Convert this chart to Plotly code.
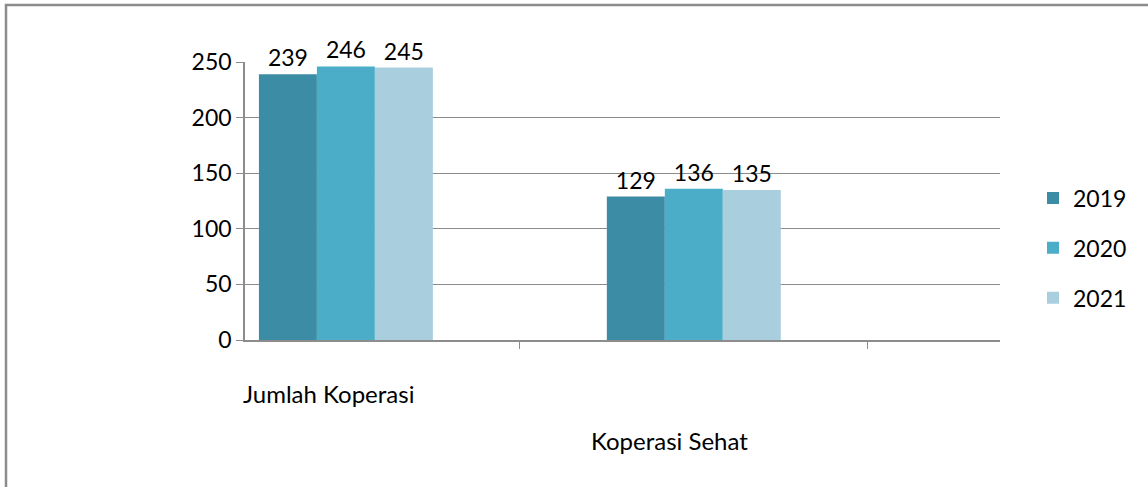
import plotly.graph_objects as go

categories = ["Jumlah Koperasi", "Koperasi Sehat"]
years = ["2019", "2020", "2021"]
values_2019 = [239, 129]
values_2020 = [246, 136]
values_2021 = [245, 135]
y_ticks = [0, 50, 100, 150, 200, 250]

series = [values_2019, values_2020, values_2021]
colors = ["#3B8CA4", "#4BADC7", "#A9CFDE"]
FONT = "Lato, Open Sans, sans-serif"

fig = go.Figure()
for name, vals, col in zip(years, series, colors):
    fig.add_trace(go.Bar(
        x=categories, y=vals, name=name, legendgroup=name,
        marker=dict(color=col, line=dict(width=0)),
        text=[str(v) for v in vals], textposition="outside",
        textfont=dict(size=23, color="#000000", family=FONT),
        cliponaxis=False,
    ))

W, H = 1148, 487
ml, mr, mt, mb = 245, 148, 62, 147
pw, ph = W - ml - mr, H - mt - mb

fig.update_layout(
    width=W, height=H,
    margin=dict(l=ml, r=mr, t=mt, b=mb, autoexpand=False),
    paper_bgcolor="white", plot_bgcolor="white",
    barmode="group", bargap=0.5, bargroupgap=0.0,
    font=dict(family=FONT, size=23, color="#000000"),
    showlegend=True,
    legend=dict(x=1 + 33 / pw, y=(340 - 248) / ph, xanchor="left", yanchor="middle",
                font=dict(size=23, family=FONT), itemsizing="constant",
                traceorder="grouped", tracegroupgap=17, itemwidth=30),
    xaxis=dict(range=[-0.29, 1.88], showticklabels=False, automargin=False,
               showline=True, linecolor="#8C8C8C", linewidth=1.5,
               ticks="outside", tickson="boundaries", ticklen=7,
               tickcolor="#8C8C8C", showgrid=False, zeroline=False),
    yaxis=dict(range=[0, 250], tickvals=y_ticks, showgrid=True, automargin=False,
               gridcolor="#8C8C8C", gridwidth=1.2,
               showline=True, linecolor="#8C8C8C", linewidth=1.5,
               ticks="outside", ticklen=7, tickcolor="#8C8C8C",
               tickfont=dict(size=23, family=FONT), zeroline=False),
    shapes=[dict(type="rect", xref="paper", yref="paper",
                 x0=(6 - ml) / pw, x1=(1160 - ml) / pw,
                 y0=-(H + 10 - (H - mb)) / ph, y1=1 + (mt - 5) / ph,
                 line=dict(color="#8C8C8C", width=2.5), layer="below")],
    annotations=[
        dict(x=categories[0], y=-(393 - (H - mb)) / ph, xref="x", yref="paper",
             text=categories[0], showarrow=False, xshift=-17, yanchor="middle",
             font=dict(size=24, family=FONT)),
        dict(x=categories[1], y=-(440 - (H - mb)) / ph, xref="x", yref="paper",
             text=categories[1], showarrow=False, xshift=-24, yanchor="middle",
             font=dict(size=24, family=FONT)),
    ],
)

fig.write_html("out.html", config={"displayModeBar": False},
               post_script="document.body.style.margin='0';document.body.style.padding='0';")
